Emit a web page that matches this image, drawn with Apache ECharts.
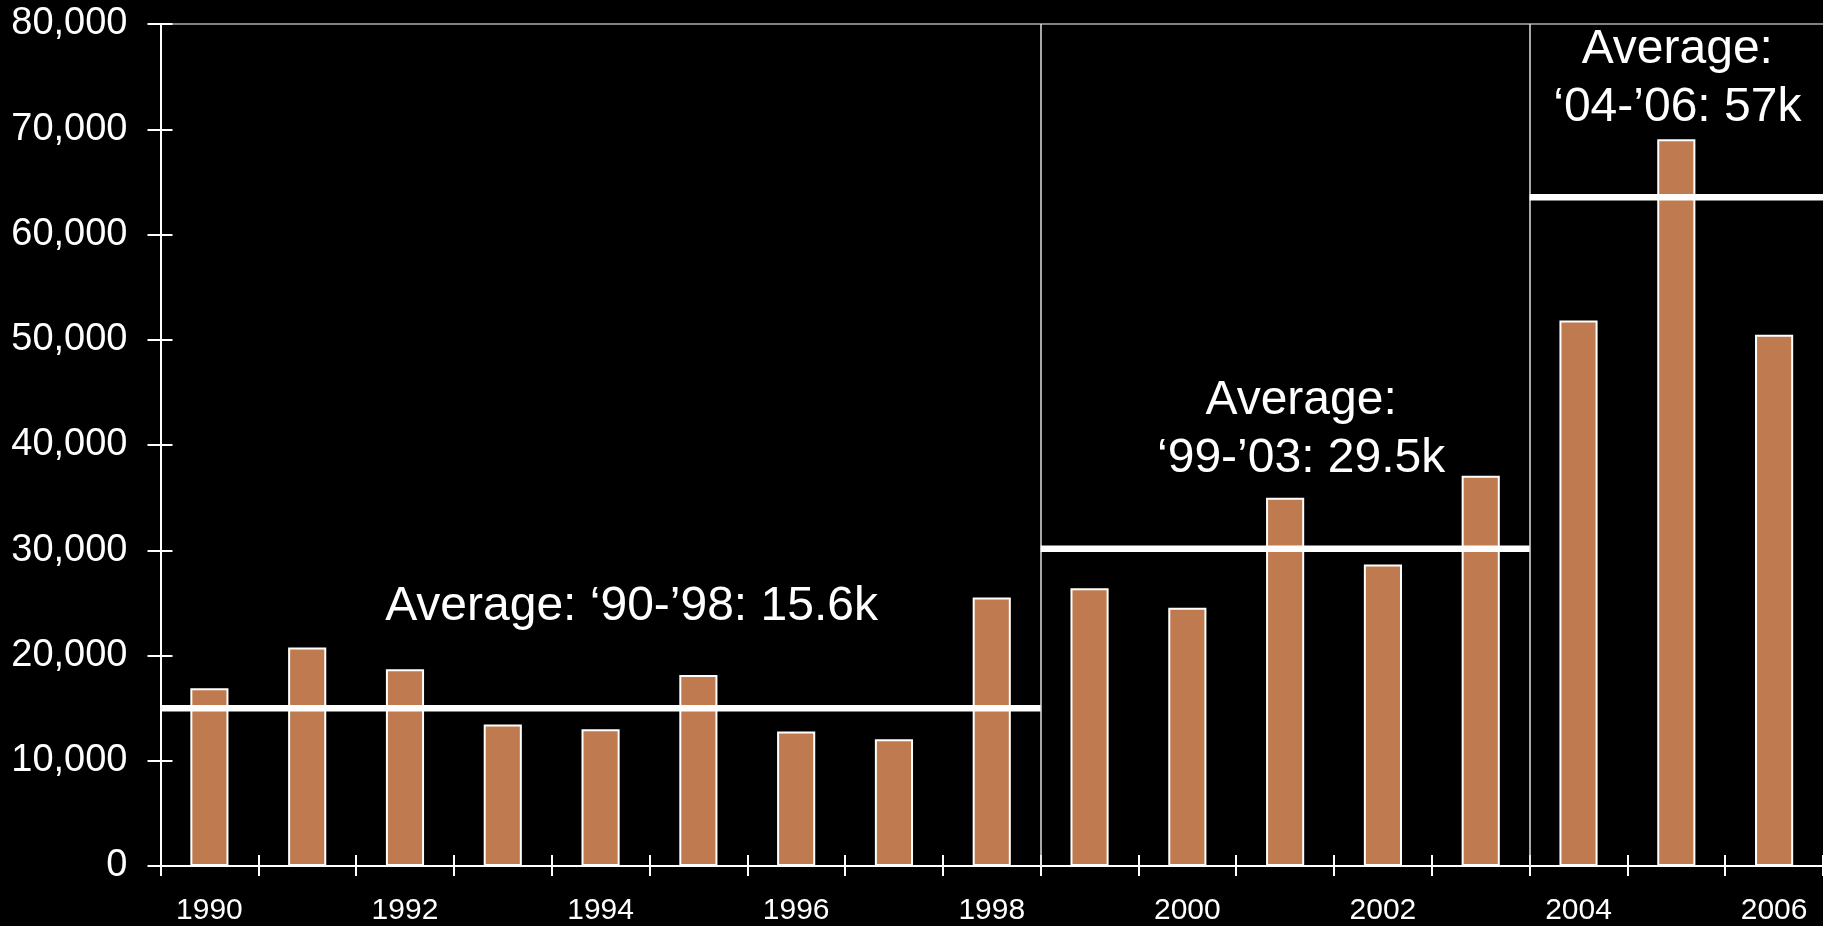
<!DOCTYPE html>
<html>
<head>
<meta charset="utf-8">
<script src="https://cdn.jsdelivr.net/npm/echarts@6/dist/echarts.min.js"></script>
<style>
html,body{margin:0;padding:0;background:#000;}
#chart{width:1823px;height:926px;}
</style>
</head>
<body>
<div id="chart"></div>
<script>
// ---- data ----
const years = ['1990','1991','1992','1993','1994','1995','1996','1997','1998','1999','2000','2001','2002','2003','2004','2005','2006'];
const values = [16900,20750,18700,13450,13000,18150,12780,12050,25500,26380,24540,34980,28650,37070,51830,69040,50470];
const yTicks = [0,10000,20000,30000,40000,50000,60000,70000,80000];
const avgValues = [15000,30140,63550];
const avgStart = [0,9,14];
const avgEnd = [9,14,17];
const avgTexts = ['Average: \u201890-\u201998: 15.6k','Average:\n\u201899-\u201903: 29.5k','Average:\n\u201804-\u201906: 57k'];
const separators = [9,14];

const font = '"Liberation Sans", Arial, Helvetica, sans-serif';
const labelOffsets = [[31,-101.5],[16,-119.5],[1,-118.5]];

const chart = echarts.init(document.getElementById('chart'), null, {renderer:'canvas'});

const avgSeries = avgValues.map((v,i) => ({
  type:'line',
  xAxisIndex:3,
  yAxisIndex:0,
  data:[[avgStart[i],v],[avgEnd[i],v]],
  symbol:'none',
  silent:true,
  z:5,
  lineStyle:{color:'#ffffff',width:6.5},
  markPoint:{
    symbol:'circle',
    symbolSize:1,
    itemStyle:{color:'rgba(0,0,0,0)'},
    label:{
      show:true,
      position:'inside',
      offset:labelOffsets[i],
      formatter:avgTexts[i],
      color:'#ffffff',
      fontSize:48,
      fontFamily:font,
      lineHeight:58,
      align:'center'
    },
    data:[{coord:[(avgStart[i]+avgEnd[i])/2, v]}]
  },
  markLine: i===0 ? {
    symbol:'none',
    silent:true,
    label:{show:false},
    lineStyle:{color:'#e0e0e0',width:1.5,type:'solid'},
    data: separators.map(s => ({xAxis:s}))
  } : undefined
}));

const option = {
  backgroundColor:'#000000',
  animation:false,
  grid:{left:160.5,top:24,width:1667,height:843,containLabel:false},
  xAxis:[
    {
      type:'category', data:years, position:'bottom', boundaryGap:true,
      axisLine:{show:true,lineStyle:{color:'#ffffff',width:2}},
      axisTick:{show:true,interval:0,length:10,inside:false,lineStyle:{color:'#ffffff',width:2}},
      axisLabel:{show:true,interval:1,color:'#ffffff',fontSize:30,fontFamily:font,margin:30},
      splitLine:{show:false}
    },
    {
      type:'category', data:years, position:'bottom', boundaryGap:true,
      axisLine:{show:false},
      axisTick:{show:true,interval:0,length:11,inside:true,lineStyle:{color:'#ffffff',width:2}},
      axisLabel:{show:false},
      splitLine:{show:false}
    },
    {
      type:'category', data:years, position:'top', boundaryGap:true,
      axisLine:{show:true,lineStyle:{color:'#808080',width:2}},
      axisTick:{show:false},
      axisLabel:{show:false},
      splitLine:{show:false}
    },
    {
      type:'value', min:0, max:years.length, show:false
    }
  ],
  yAxis:[
    {
      type:'value', min:yTicks[0], max:yTicks[yTicks.length-1], interval:yTicks[1]-yTicks[0], position:'left',
      axisLine:{show:true,lineStyle:{color:'#ffffff',width:2}},
      axisTick:{show:true,length:13,inside:false,lineStyle:{color:'#ffffff',width:2}},
      axisLabel:{show:true,color:'#ffffff',fontSize:38,fontFamily:font,margin:33,
        formatter:v=>v.toLocaleString('en-US')},
      splitLine:{show:false}
    },
    {
      type:'value', min:yTicks[0], max:yTicks[yTicks.length-1], interval:yTicks[1]-yTicks[0], position:'left',
      axisLine:{show:false},
      axisTick:{show:true,length:12,inside:true,lineStyle:{color:'#ffffff',width:2}},
      axisLabel:{show:false},
      splitLine:{show:false}
    }
  ],
  series:[
    {
      type:'bar',
      xAxisIndex:0,
      yAxisIndex:0,
      data:values,
      barWidth:'39%',
      z:2,
      itemStyle:{color:'#BF7B4F',borderColor:'#ffffff',borderWidth:2}
    },
    ...avgSeries
  ]
};
chart.setOption(option);
</script>
</body>
</html>
